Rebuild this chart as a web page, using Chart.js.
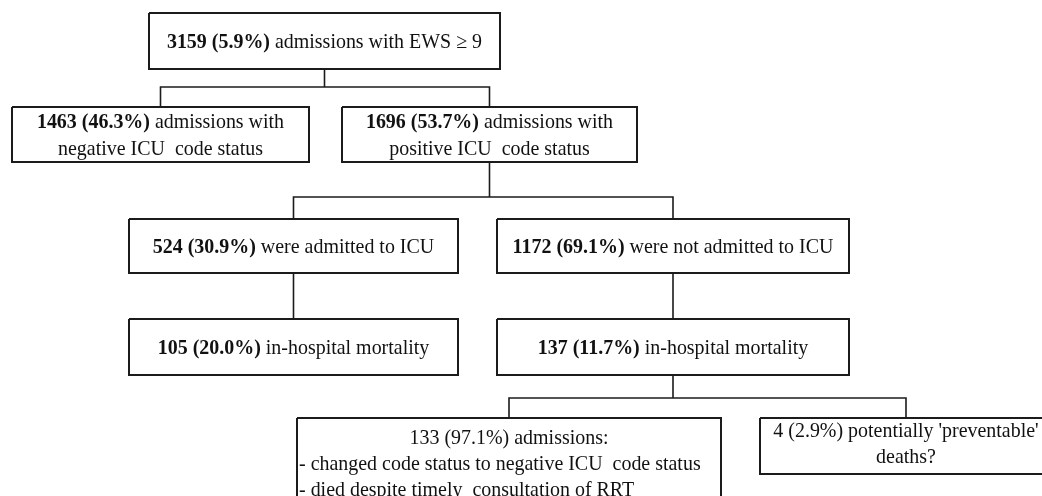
<!DOCTYPE html>
<html>
<head>
<meta charset="utf-8">
<script src="https://cdn.jsdelivr.net/npm/chart.js@4/dist/chart.umd.min.js"></script>
<style>
  html, body { margin: 0; padding: 0; background: #ffffff; }
  #wrap { width: 1042px; height: 496px; }
</style>
</head>
<body>
<div id="wrap"><canvas id="c" width="1042" height="496"></canvas></div>
<script>
// ---- flowchart content (text with **bold** parts) ----
const nodeLines = [
  ["**3159 (5.9%)** admissions with EWS \u2265 9"],
  ["**1463 (46.3%)** admissions with", "negative ICU  code status"],
  ["**1696 (53.7%)** admissions with", "positive ICU  code status"],
  ["**524 (30.9%)** were admitted to ICU"],
  ["**1172 (69.1%)** were not admitted to ICU"],
  ["**105 (20.0%)** in-hospital mortality"],
  ["**137 (11.7%)** in-hospital mortality"],
  ["133 (97.1%) admissions:", "- changed code status to negative ICU  code status", "- died despite timely  consultation of RRT"],
  ["4 (2.9%) potentially 'preventable'", "deaths?"]
];
// box extents in chart units
const nodeLeft   = [149, 12, 342, 129, 497, 129, 497, 297, 760];
const nodeTop    = [13, 107, 107, 219, 219, 319, 319, 418, 418];
const nodeRight  = [500, 309, 637, 458, 849, 458, 849, 721, 1052];
const nodeBottom = [69, 162, 162, 273, 273, 375, 375, 520, 474];
// parent -> children links
const linkParent   = [0, 2, 3, 4, 6];
const linkChildren = [[1, 2], [3, 4], [5], [6], [7, 8]];
const linkBarY     = [87, 197, null, null, 398];

const FONT = '"Liberation Serif", "Times New Roman", serif';
const FS = 21, SX = 0.95, GAP = 27, CAP = 7;

function cx(i) { return (nodeLeft[i] + nodeRight[i]) / 2; }

const datasets = [];
const lineStyle = { borderColor: '#1b1b1b', borderWidth: 1.6, pointRadius: 0, showLine: true, fill: false, tension: 0 };
// boxes
for (let i = 0; i < nodeLines.length; i++) {
  datasets.push(Object.assign({}, lineStyle, { borderWidth: 2, data: [
    {x: nodeLeft[i], y: nodeTop[i]}, {x: nodeRight[i], y: nodeTop[i]},
    {x: nodeRight[i], y: nodeBottom[i]}, {x: nodeLeft[i], y: nodeBottom[i]},
    {x: nodeLeft[i], y: nodeTop[i]}
  ]}));
}
// connectors
for (let k = 0; k < linkParent.length; k++) {
  const p = linkParent[k], ch = linkChildren[k];
  if (ch.length === 1) {
    datasets.push(Object.assign({}, lineStyle, { data: [{x: cx(p), y: nodeBottom[p]}, {x: cx(p), y: nodeTop[ch[0]]}] }));
  } else {
    const by = linkBarY[k];
    datasets.push(Object.assign({}, lineStyle, { data: [{x: cx(p), y: nodeBottom[p]}, {x: cx(p), y: by}] }));
    datasets.push(Object.assign({}, lineStyle, { data: [
      {x: cx(ch[0]), y: nodeTop[ch[0]]}, {x: cx(ch[0]), y: by},
      {x: cx(ch[1]), y: by}, {x: cx(ch[1]), y: nodeTop[ch[1]]}
    ]}));
  }
}

// text block vertical centre and alignment per node
const textMid = nodeLines.map((l, i) => (nodeTop[i] + Math.min(nodeBottom[i], 496 + 30)) / 2);
textMid[7] = 463; textMid[8] = 442.5;
const textGap = nodeLines.map(() => GAP);
textGap[7] = 26; textGap[8] = 26;

function parseSegs(s) {
  const parts = s.split('**'), segs = [];
  parts.forEach((t, j) => { if (t.length) segs.push({ t: t, b: j % 2 === 1 }); });
  return segs;
}

const textPlugin = {
  id: 'flowText',
  afterDatasetsDraw(chart) {
    const ctx = chart.ctx, xs = chart.scales.x, ys = chart.scales.y;
    ctx.save();
    ctx.fillStyle = '#111111';
    ctx.textBaseline = 'alphabetic';
    nodeLines.forEach((lines, i) => {
      const n = lines.length;
      lines.forEach((line, li) => {
        const segs = parseSegs(line);
        let w = 0;
        segs.forEach(s => { ctx.font = (s.b ? 'bold ' : '') + FS + 'px ' + FONT; s.w = ctx.measureText(s.t).width * SX; w += s.w; });
        const leftAlign = (i === 7 && li > 0);
        let x0 = leftAlign ? xs.getPixelForValue(nodeLeft[i] + 2) : xs.getPixelForValue(cx(i)) - w / 2;
        const yb = ys.getPixelForValue(textMid[i] + CAP + (li - (n - 1) / 2) * textGap[i]);
        segs.forEach(s => {
          ctx.font = (s.b ? 'bold ' : '') + FS + 'px ' + FONT;
          ctx.save();
          ctx.translate(x0, yb);
          ctx.scale(SX, 1);
          ctx.fillText(s.t, 0, 0);
          ctx.restore();
          x0 += s.w;
        });
      });
    });
    ctx.restore();
  }
};

new Chart(document.getElementById('c'), {
  type: 'scatter',
  data: { datasets: datasets },
  options: {
    responsive: false,
    animation: false,
    events: [],
    layout: { padding: 0 },
    plugins: { legend: { display: false }, tooltip: { enabled: false } },
    scales: {
      x: { type: 'linear', min: 0, max: 1042, display: false },
      y: { type: 'linear', min: 0, max: 496, reverse: true, display: false }
    }
  },
  plugins: [textPlugin]
});
</script>
</body>
</html>
